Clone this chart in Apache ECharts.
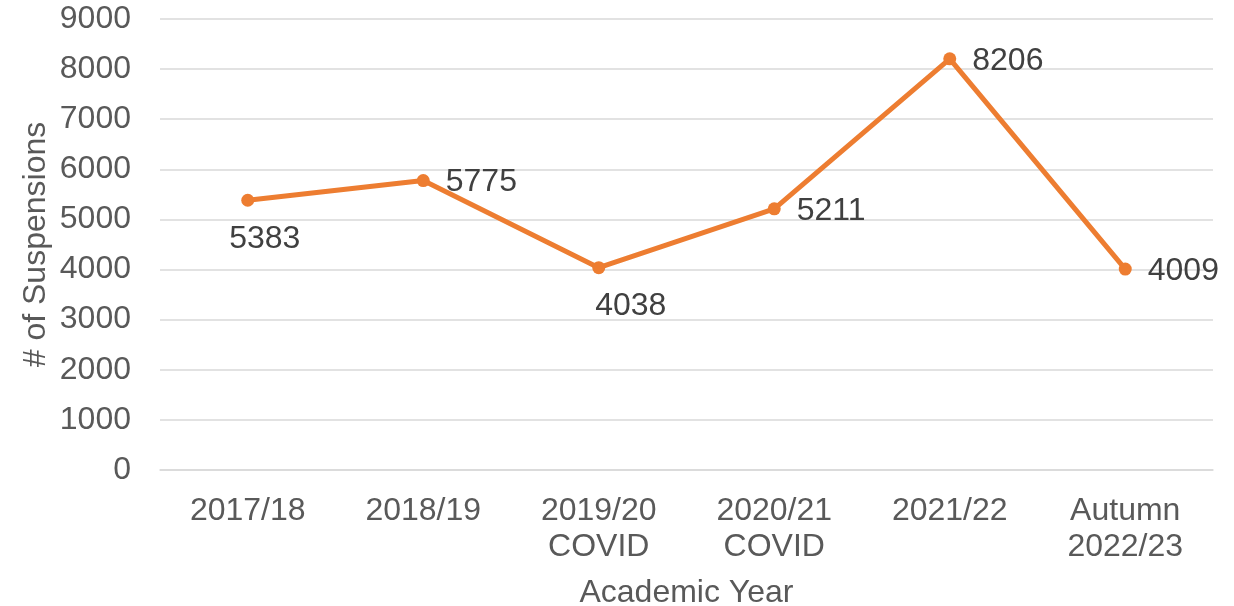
<!DOCTYPE html>
<html>
<head>
<meta charset="utf-8">
<script src="https://cdn.jsdelivr.net/npm/echarts@6/dist/echarts.min.js"></script>
<style>
  html, body { margin: 0; padding: 0; background: #fff; }
  #chart { width: 1234px; height: 606px; }
</style>
</head>
<body>
<div id="chart"></div>
<script>
const years = ['2017/18', '2018/19', '2019/20\nCOVID', '2020/21\nCOVID', '2021/22', 'Autumn\n2022/23'];
const suspensions = [5383, 5775, 4038, 5211, 8206, 4009];

function axisText() {
  return { color: '#595959', fontSize: 32, fontFamily: 'Liberation Sans, Arial, sans-serif' };
}

// label placement per point, as in the original (below for some, right for the rest)
function labelFor(i) {
  const below = { 0: [17, 0], 2: [32, 0] };
  if (below[i]) {
    return { position: 'bottom', distance: 16, offset: below[i] };
  }
  return { position: 'right', distance: 16, offset: [0, 2] };
}

const chart = echarts.init(document.getElementById('chart'));
chart.setOption({
  animation: false,
  grid: { left: 160, right: 21, top: 19, bottom: 136, outerBoundsMode: 'none', containLabel: false },
  xAxis: {
    type: 'category',
    data: years,
    boundaryGap: true,
    axisLine: { show: true, lineStyle: { color: '#d9d9d9', width: 1.5 } },
    axisTick: { show: false },
    axisLabel: { ...axisText(), margin: 23, lineHeight: 36, interval: 0 },
    name: 'Academic Year',
    nameLocation: 'middle',
    nameGap: 107,
    nameMoveOverlap: false,
    nameTextStyle: axisText(),
  },
  yAxis: {
    type: 'value',
    min: 0,
    max: 9000,
    interval: 1000,
    axisLine: { show: false },
    axisTick: { show: false },
    axisLabel: { ...axisText(), margin: 29, formatter: v => String(v) },
    splitLine: { lineStyle: { color: '#d9d9d9', width: 1.5 } },
    name: '# of Suspensions',
    nameLocation: 'middle',
    nameGap: 108,
    nameMoveOverlap: false,
    nameTextStyle: axisText(),
  },
  series: [{
    type: 'line',
    data: suspensions.map((v, i) => ({ value: v, label: labelFor(i) })),
    symbol: 'circle',
    symbolSize: 13,
    itemStyle: { color: '#ed7d31' },
    lineStyle: { color: '#ed7d31', width: 5 },
    label: {
      show: true,
      color: '#404040',
      fontSize: 32,
      fontFamily: 'Liberation Sans, Arial, sans-serif',
    },
  }],
});
</script>
</body>
</html>
